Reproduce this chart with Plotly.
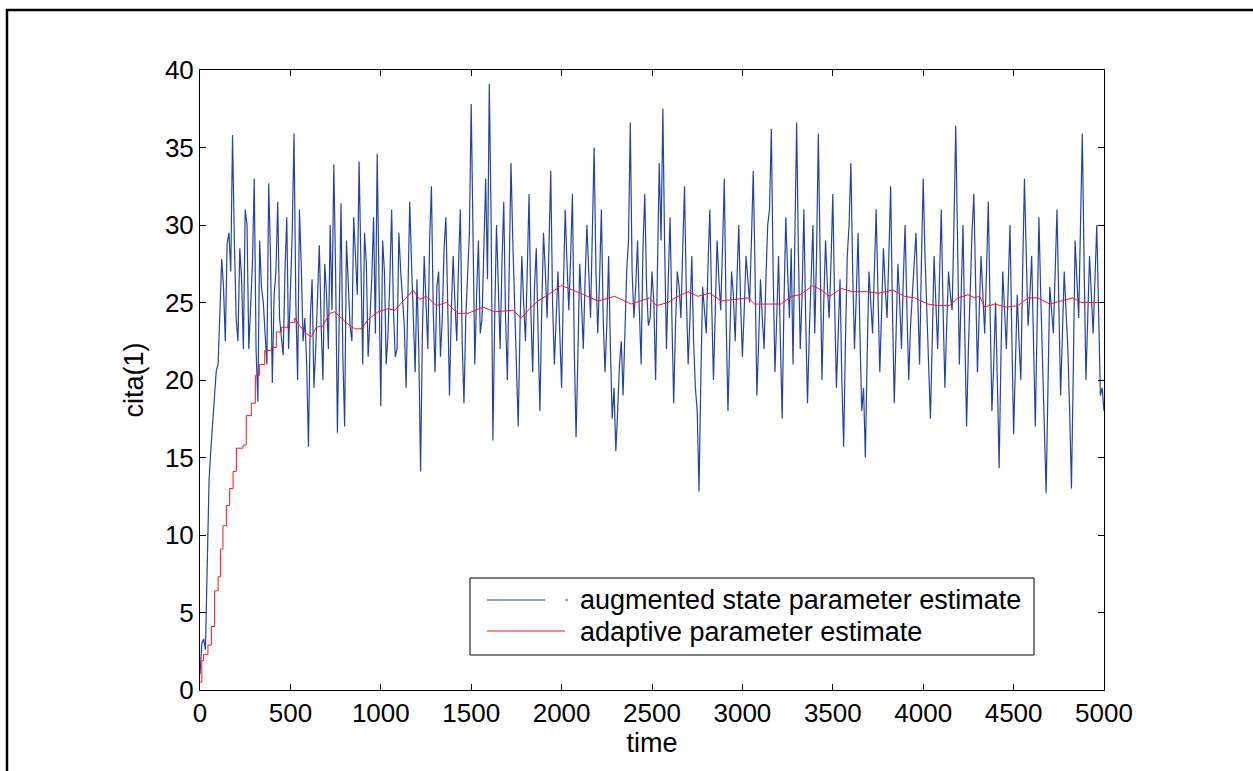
import plotly.graph_objects as go

# ---- data ----
# augmented state parameter estimate, sampled at t = 0, 20, 40, ... 5000
blue_values_even = [
    1.0, 3.3, 8.0, 15.5, 19.0, 21.0, 27.8, 22.5, 29.5, 35.8,
    24.0, 28.5, 22.0, 30.0, 24.5, 33.0, 18.6, 26.0, 23.0, 32.7,
    19.8, 27.0, 24.0, 21.6, 30.5, 26.0, 35.9, 20.0, 27.4, 24.0,
    15.7, 26.5, 22.0, 28.7, 20.0, 25.5, 30.0, 33.9, 16.6, 31.4,
    17.0, 26.0, 22.5, 28.0, 34.1, 21.0, 27.5, 24.0, 30.5, 34.6,
    18.3, 27.0, 23.0, 31.0, 21.5, 29.5, 25.0, 19.5, 31.5, 23.5,
    26.5, 14.1, 28.0, 22.0, 32.5, 20.5, 27.0, 24.0, 30.5, 19.0,
    28.0, 22.5, 31.0, 18.5, 26.5, 37.8, 21.0, 29.0, 24.0, 33.0,
    39.1, 16.1, 30.0, 22.0, 31.5, 20.0, 34.0, 25.0, 17.0, 28.0,
    22.5, 32.0, 20.5, 28.5, 18.0, 29.5, 24.0, 33.5, 21.0, 27.0,
    19.5, 31.0, 24.5, 32.0, 16.3, 27.5, 22.0, 30.0, 24.0, 35.0,
    23.0, 31.0, 20.5, 28.0, 17.5, 15.4, 21.0, 19.0, 27.0, 36.6,
    24.0, 29.0, 21.0, 32.0, 23.5, 27.0, 20.0, 34.0, 37.5, 22.0,
    30.5, 18.5, 27.0, 24.0, 32.5, 21.0, 28.0, 19.5, 12.8, 26.0,
    23.0, 31.0, 20.0, 29.0, 24.5, 33.0, 18.0, 27.0, 22.5, 30.0,
    21.5, 28.0, 25.0, 33.5, 19.0, 26.5, 22.0, 30.0, 36.2, 20.5,
    28.0, 17.5, 30.5, 24.0, 21.0, 36.6, 22.0, 31.0, 18.5, 27.0,
    23.0, 35.9, 20.0, 29.0, 24.0, 32.0, 19.5, 26.5, 15.7, 28.0,
    34.0, 22.0, 29.5, 18.0, 15.0, 27.0, 23.0, 31.0, 20.5, 28.5,
    24.0, 32.5, 18.5, 27.5, 22.0, 30.0, 20.0, 26.0, 29.5, 21.0,
    33.0, 24.0, 17.5, 28.0, 22.0, 31.0, 19.5, 27.0, 24.5, 36.4,
    21.0, 30.0, 17.0, 26.5, 32.0, 20.5, 28.0, 23.0, 31.5, 18.0,
    25.0, 14.3, 27.0, 22.0, 30.0, 16.5, 25.5, 20.0, 33.0, 23.5,
    28.0, 17.0, 30.5, 21.0, 12.7, 26.0, 23.0, 31.0, 19.0, 27.0,
    22.0, 13.0, 29.0, 24.0, 35.9, 20.0, 28.0, 23.0, 30.0, 19.0,
    18.0,
]
# same series at t = 10, 30, 50, ... 4990
blue_values_odd = [
    3.0, 2.6, 13.5, 17.2, 20.6, 24.5, 26.0, 28.8, 27.0, 29.0,
    22.5, 26.5, 31.0, 22.0, 27.5, 22.0, 29.0, 25.0, 21.0, 28.0,
    25.5, 31.5, 23.0, 27.0, 22.0, 29.5, 25.0, 31.0, 22.5, 21.0,
    24.0, 19.5, 25.0, 23.5, 27.5, 22.0, 24.5, 27.0, 24.0, 21.5,
    29.0, 23.5, 30.5, 25.5, 26.0, 29.5, 21.5, 26.5, 23.0, 25.0,
    29.0, 21.0, 26.5, 24.5, 22.0, 27.0, 23.5, 26.0, 27.5, 20.5,
    22.0, 23.0, 25.5, 29.0, 24.5, 26.0, 21.5, 28.5, 25.0, 24.5,
    25.0, 27.5, 22.5, 24.0, 29.5, 28.0, 25.5, 23.0, 28.5, 26.5,
    30.5, 24.0, 26.0, 27.5, 24.0, 27.0, 29.0, 21.5, 23.5, 25.0,
    27.0, 24.5, 26.0, 23.0, 24.5, 27.0, 28.5, 25.0, 24.0, 23.0,
    26.0, 27.5, 28.0, 22.0, 21.5, 25.0, 26.5, 27.0, 29.5, 27.0,
    26.5, 24.0, 23.5, 22.0, 19.5, 18.0, 22.5, 23.0, 29.0, 27.0,
    26.0, 24.5, 28.5, 26.0, 24.0, 25.0, 27.0, 29.0, 28.5, 26.5,
    24.0, 23.5, 26.0, 28.5, 25.5, 24.0, 22.5, 18.0, 20.0, 24.5,
    27.5, 25.0, 24.5, 26.5, 28.5, 24.0, 22.5, 25.5, 26.5, 25.0,
    24.5, 26.5, 29.0, 27.0, 22.5, 24.0, 26.5, 31.0, 27.0, 24.0,
    22.5, 25.0, 27.0, 28.5, 29.0, 28.0, 25.5, 24.0, 23.0, 30.0,
    28.0, 26.5, 25.0, 26.0, 27.5, 25.0, 23.0, 20.0, 22.5, 30.0,
    27.0, 25.5, 23.0, 19.5, 21.5, 25.0, 27.0, 25.5, 24.5, 26.0,
    28.0, 24.5, 23.0, 25.0, 26.5, 24.5, 23.5, 27.5, 25.0, 27.5,
    28.0, 21.0, 22.5, 25.0, 26.5, 24.5, 23.5, 25.5, 30.0, 29.0,
    25.5, 23.0, 22.0, 29.5, 26.0, 24.5, 25.5, 27.0, 24.5, 21.0,
    20.0, 21.5, 24.5, 26.0, 23.0, 21.0, 22.5, 27.0, 28.0, 25.5,
    22.5, 23.5, 25.5, 18.0, 19.5, 24.5, 27.0, 25.0, 23.0, 24.5,
    18.0, 20.5, 26.5, 30.0, 27.5, 24.0, 25.5, 26.5, 24.5, 19.5,
]
blue_t_step = 20

# adaptive parameter estimate
red_time = [
    0, 10, 20, 44, 63, 81, 100, 114, 127, 146, 164, 183, 201, 238, 256, 284,
    306, 330, 358, 395, 422, 450, 487, 524, 551, 588, 616, 644, 680, 717, 745,
    782, 819, 856, 893, 930, 985, 1040, 1077, 1132, 1178, 1215, 1252, 1307,
    1362, 1427, 1482, 1565, 1630, 1731, 1777, 1823, 1869, 1925, 1998, 2063,
    2137, 2201, 2293, 2385, 2487, 2524, 2588, 2643, 2699, 2754, 2819, 2883,
    2957, 3031, 3068, 3142, 3215, 3271, 3317, 3344, 3390, 3436, 3482, 3547,
    3611, 3685, 3750, 3833, 3897, 3952, 4026, 4081, 4146, 4192, 4248, 4285,
    4312, 4340, 4395, 4460, 4524, 4580, 4635, 4699, 4764, 4828, 4874, 4948,
    5000,
]
red_values = [
    0.5, 1.9, 2.3, 2.9, 4.1, 6.4, 7.3, 9.1, 10.6, 11.9, 13.0, 14.1, 15.6, 15.8,
    17.7, 18.5, 20.3, 21.0, 21.9, 22.1, 23.1, 23.4, 23.7, 24.0, 23.5, 23.0,
    22.8, 23.4, 23.5, 24.3, 24.4, 24.0, 23.6, 23.3, 23.3, 23.9, 24.4, 24.6,
    24.5, 25.2, 25.8, 25.2, 25.4, 24.8, 25.0, 24.3, 24.3, 24.7, 24.4, 24.5,
    24.0, 24.6, 25.1, 25.5, 26.1, 25.8, 25.4, 25.1, 25.4, 24.9, 25.3, 24.8,
    25.0, 25.4, 25.7, 25.4, 25.6, 25.1, 25.2, 25.3, 24.9, 24.9, 24.9, 25.4,
    25.5, 25.7, 26.1, 25.8, 25.4, 25.9, 25.7, 25.7, 25.6, 25.8, 25.4, 25.3,
    24.9, 24.8, 24.8, 25.3, 25.5, 25.3, 25.4, 24.7, 24.9, 24.7, 24.8, 25.3,
    25.3, 24.9, 25.1, 25.3, 25.0, 25.0, 25.0,
]
red_rise_end = 524  # staircase part of the adaptive estimate ends here

x_ticks = list(range(0, 5001, 500))
y_ticks = list(range(0, 41, 5))
legend_labels = ["augmented state parameter estimate", "adaptive parameter estimate"]

BLUE = "#2444a2"
RED = "#ff1414"
FONT = "Liberation Sans, Arial, sans-serif"
TICK_SIZE = 26
TEXT_SIZE = 27

# ---- merge the two blue sample sets in time order ----
blue_pts = [(i * blue_t_step, v) for i, v in enumerate(blue_values_even)]
blue_pts += [(i * blue_t_step + blue_t_step // 2, v) for i, v in enumerate(blue_values_odd)]
blue_pts.sort()
blue_time = [p[0] for p in blue_pts]
blue_values = [p[1] for p in blue_pts]

# plot-area geometry (pixels) for paper conversions
L, R, T, B = 200, 1104, 70, 690
W, H = 1253, 771


def px(x):
    return (x - L) / (R - L)


def py(y):
    return (B - y) / (B - T)


fig = go.Figure()
fig.add_trace(go.Scatter(x=blue_time, y=blue_values, mode="lines",
                         line=dict(color=BLUE, width=1.2), showlegend=False,
                         name=legend_labels[0]))
rise_t = [t for t in red_time if t <= red_rise_end]
rise_v = red_values[:len(rise_t)]
fig.add_trace(go.Scatter(x=rise_t, y=rise_v, mode="lines",
                         line=dict(color=RED, width=1, shape="hv"),
                         showlegend=False, name=legend_labels[1]))
fig.add_trace(go.Scatter(x=red_time[len(rise_t) - 1:], y=red_values[len(rise_t) - 1:],
                         mode="lines", line=dict(color=RED, width=1),
                         showlegend=False, name=legend_labels[1]))

axis_common = dict(showline=True, linecolor="black", linewidth=1, mirror="allticks",
                   ticks="inside", ticklen=6, tickcolor="black", showgrid=False,
                   zeroline=False,
                   tickfont=dict(family=FONT, size=TICK_SIZE, color="black"))

fig.update_xaxes(range=[0, 5000], tickvals=x_ticks, ticktext=[str(v) for v in x_ticks],
                 title=dict(text="time", font=dict(family=FONT, size=TEXT_SIZE, color="black"),
                            standoff=1), **axis_common)
fig.update_yaxes(range=[0, 40], tickvals=y_ticks, ticktext=[str(v) for v in y_ticks],
                 title=dict(text="cita(1)", font=dict(family=FONT, size=TEXT_SIZE, color="black"),
                            standoff=13), **axis_common)

shapes = []
# outer figure border
shapes.append(dict(type="rect", xref="paper", yref="paper",
                   x0=px(7), x1=px(W + 20), y0=py(10), y1=py(H + 20),
                   line=dict(color="black", width=2.5), fillcolor="rgba(0,0,0,0)",
                   layer="above"))
# legend box
shapes.append(dict(type="rect", xref="paper", yref="paper",
                   x0=px(470), x1=px(1034), y0=py(578), y1=py(655),
                   line=dict(color="black", width=1), fillcolor="white", layer="above"))
shapes.append(dict(type="line", xref="paper", yref="paper",
                   x0=px(487), x1=px(545), y0=py(600), y1=py(600),
                   line=dict(color=BLUE, width=1), layer="above"))
shapes.append(dict(type="line", xref="paper", yref="paper",
                   x0=px(565), x1=px(568), y0=py(600), y1=py(600),
                   line=dict(color=BLUE, width=1), layer="above"))
shapes.append(dict(type="line", xref="paper", yref="paper",
                   x0=px(487), x1=px(565), y0=py(631), y1=py(631),
                   line=dict(color=RED, width=1), layer="above"))

annotations = [
    dict(xref="paper", yref="paper", x=px(578), y=py(600), text=legend_labels[0],
         showarrow=False, xanchor="left", yanchor="middle",
         font=dict(family=FONT, size=TEXT_SIZE, color="black")),
    dict(xref="paper", yref="paper", x=px(578), y=py(632), text=legend_labels[1],
         showarrow=False, xanchor="left", yanchor="middle",
         font=dict(family=FONT, size=TEXT_SIZE, color="black")),
]

fig.update_layout(width=W, height=H, margin=dict(l=L, r=W - R, t=T, b=H - B),
                  paper_bgcolor="white", plot_bgcolor="white",
                  shapes=shapes, annotations=annotations, showlegend=False)

# remove the browser's default 8px body margin so the figure sits at (0, 0)
fig.write_html("out.html", config={"displayModeBar": False},
               post_script="document.body.style.margin='0px';document.body.style.overflow='hidden';")
